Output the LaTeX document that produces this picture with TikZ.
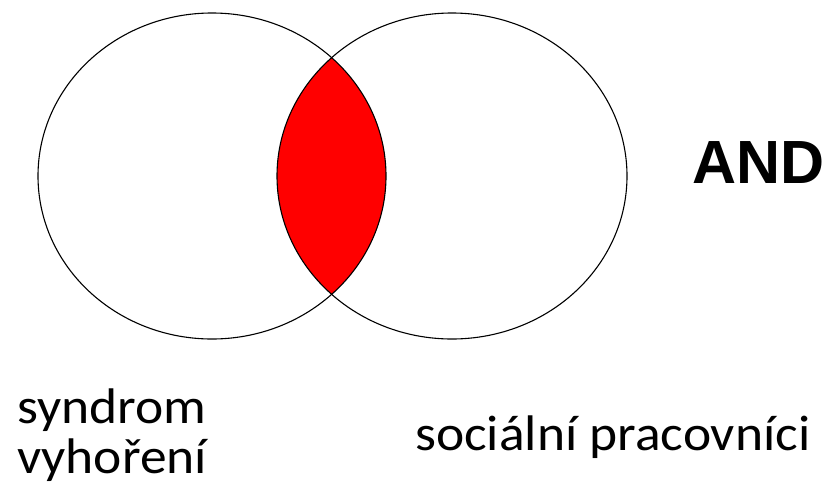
\documentclass[tikz,border=0pt]{standalone}
\usepackage{fontspec}
\setmainfont{Carlito}
\newfontfamily\lblfont[FakeStretch=1.07]{Carlito}
\newfontfamily\arialfont{Liberation Sans}
\definecolor{lensred}{RGB}{255,0,0}
\begin{document}
\begin{tikzpicture}[x=1pt,y=-1pt,
  setline/.style={draw=black,line width=1.1pt},
  lbl/.style={inner sep=0pt,font=\lblfont\fontsize{50}{50}\selectfont},
  optext/.style={inner sep=0pt,font=\arialfont\bfseries\fontsize{61}{61}\selectfont}]
\useasboundingbox (0,0) rectangle (833,493);
\coordinate (cA) at (212,176);
\coordinate (cB) at (452,176);
\begin{scope}
  \clip (cA) ellipse [x radius=174, y radius=163];
  \fill[lensred] (cB) ellipse [x radius=175, y radius=163];
\end{scope}
\draw[setline] (cA) ellipse [x radius=174, y radius=163];
\draw[setline] (cB) ellipse [x radius=175, y radius=163];
\node[optext,anchor=base west] (op) at (692,183) {AND};
\node[lbl,anchor=base west,align=left] (la) at (17,473) {syndrom\\vyhoření};
\node[lbl,anchor=base west] (lb) at (415,450) {sociální pracovníci};
\end{tikzpicture}
\end{document}
